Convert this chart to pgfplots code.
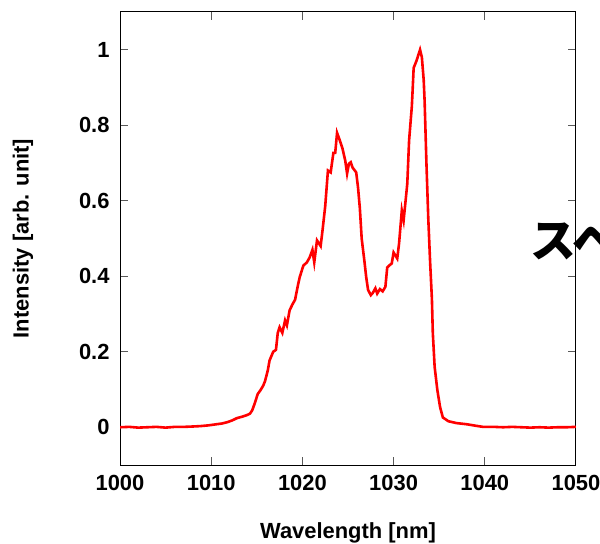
\documentclass[border=0pt]{standalone}
\usepackage{fontspec}
\setmainfont{Liberation Sans}
\newfontfamily\cjk{Noto Sans CJK JP}
\usepackage{pgfplots}
\pgfplotsset{compat=1.18}
\begin{document}
\begin{tikzpicture}
\useasboundingbox (0bp,0bp) rectangle (600bp,544bp);
\begin{axis}[
  at={(120bp,79bp)}, anchor=south west,
  width=456bp, height=453bp, scale only axis,
  xmin=1000, xmax=1050, ymin=-0.1, ymax=1.1,
  xtick={1000,1010,...,1050},
  ytick={0,0.2,0.4,0.6,0.8,1},
  yticklabels={0,0.2,0.4,0.6,0.8,1},
  tick align=inside,
  major tick length=8bp,
  tick style={line width=1bp, color=black!65},
  axis line style={line width=1bp, black},
  /pgf/number format/assume math mode=true,
  /pgf/number format/1000 sep={},
  ticklabel style={font=\fontsize{22}{25}\selectfont\bfseries},
  xticklabel style={yshift=-7bp},
  yticklabel style={xshift=-7bp},
  label style={font=\fontsize{22}{25}\selectfont\bfseries},
  xlabel={Wavelength [nm]},
  ylabel={Intensity [arb. unit]},
  xlabel style={at={(axis description cs:0.5,-0.150)}, anchor=center},
  ylabel style={at={(axis description cs:-0.213,0.5)}, anchor=center},
]
\addplot[red, line width=2.6bp] coordinates {
(1000.0,0.000) (1001.0,0.001) (1002.0,-0.001) (1003.0,0.000) (1004.0,0.001)
(1005.0,-0.001) (1006.0,0.001) (1007.0,0.001) (1008.0,0.002) (1008.8,0.003)
(1009.7,0.005) (1010.6,0.008) (1011.2,0.010) (1011.7,0.013) (1012.3,0.018)
(1012.8,0.024) (1013.4,0.028) (1013.9,0.032) (1014.25,0.036) (1014.5,0.045)
(1014.8,0.065) (1015.1,0.088) (1015.4,0.098) (1015.7,0.110) (1015.9,0.122)
(1016.2,0.150) (1016.4,0.177) (1016.8,0.200) (1017.1,0.205) (1017.3,0.250)
(1017.5,0.265) (1017.8,0.250) (1018.1,0.283) (1018.3,0.270) (1018.6,0.310)
(1018.9,0.325) (1019.2,0.338) (1019.5,0.375) (1019.7,0.397) (1020.1,0.428)
(1020.5,0.437) (1020.8,0.450) (1021.1,0.470) (1021.3,0.437) (1021.6,0.495)
(1022.0,0.480) (1022.2,0.520) (1022.5,0.585) (1022.8,0.680) (1023.1,0.675)
(1023.4,0.727) (1023.6,0.727) (1023.8,0.780) (1024.1,0.760) (1024.4,0.738)
(1024.7,0.706) (1024.9,0.672) (1025.1,0.698) (1025.3,0.702) (1025.5,0.688)
(1025.9,0.675) (1026.1,0.635) (1026.3,0.580) (1026.5,0.500) (1026.8,0.440)
(1027.0,0.397) (1027.2,0.364) (1027.5,0.350) (1027.7,0.355) (1028.0,0.368)
(1028.2,0.354) (1028.5,0.366) (1028.8,0.360) (1029.1,0.372) (1029.3,0.423)
(1029.5,0.428) (1029.8,0.434) (1030.0,0.463) (1030.4,0.447) (1030.6,0.487)
(1030.9,0.574) (1031.1,0.548) (1031.5,0.645) (1031.7,0.760) (1032.0,0.850)
(1032.1,0.900) (1032.2,0.952) (1032.5,0.970) (1032.9,1.000) (1033.1,0.980)
(1033.3,0.920) (1033.4,0.865) (1033.6,0.700) (1033.8,0.555) (1034.0,0.440)
(1034.2,0.340) (1034.3,0.250) (1034.5,0.160) (1034.8,0.098) (1035.1,0.053)
(1035.4,0.026) (1036.0,0.016) (1036.9,0.011) (1038.0,0.008) (1039.0,0.004)
(1039.8,0.001) (1041.0,0.001) (1042.0,0.000) (1043.0,0.001) (1044.0,0.000)
(1045.0,-0.001) (1046.0,0.000) (1047.0,-0.001) (1048.0,0.000) (1049.0,0.000)
(1050.0,0.001)
};
\end{axis}
\node[anchor=west, inner sep=0pt] at (530bp,304bp) {\fontsize{46}{50}\selectfont\cjk\bfseries スペクトル};
\end{tikzpicture}
\end{document}
